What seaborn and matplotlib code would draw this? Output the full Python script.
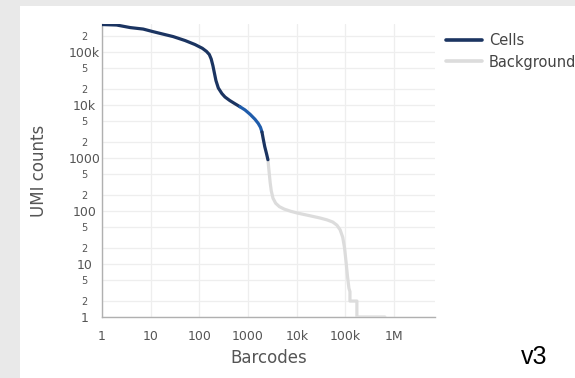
import matplotlib
matplotlib.use('Agg')
import matplotlib.pyplot as plt
import matplotlib.ticker as mticker
from matplotlib.patches import Rectangle
from matplotlib.lines import Line2D
import seaborn as sns

sns.set_style('white')
plt.rcParams['font.family'] = ['DejaVu Sans']

# barcode rank curve
cells_barcodes = [1, 2, 3.8, 7, 11, 16, 29, 51, 81, 115, 140, 160, 175, 190, 205, 219, 245,
                  290, 336, 420, 538, 682]
cells_umis = [331e3, 324e3, 290e3, 272e3, 244e3, 224e3, 196e3, 165e3, 139e3, 118e3, 103e3,
              90e3, 74e3, 55e3, 39e3, 29e3, 21e3, 16.5e3, 14.2e3, 12.2e3, 10.6e3, 9.3e3]
mixed_barcodes = [682, 864, 1100, 1386, 1620, 1800, 1930]
mixed_umis = [9.3e3, 8.1e3, 6.7e3, 5.4e3, 4.5e3, 3.8e3, 3.1e3]
tail_barcodes = [1930, 2050, 2200, 2400, 2560]
tail_umis = [3.1e3, 2.3e3, 1.65e3, 1.2e3, 930]
bg_barcodes = [2560, 2700, 2850, 3000, 3250, 3700, 4400, 5500, 7500, 10.1e3, 18e3, 29.9e3,
               42e3, 55e3, 67e3, 78e3, 88e3, 96e3, 103e3, 110e3, 118e3, 124e3, 124e3,
               172e3, 172e3, 647e3]
bg_umis = [930, 560, 340, 240, 175, 140, 121, 109, 99, 92, 82, 74, 68, 62, 54, 44, 32, 20,
           11, 6, 3.5, 3, 2, 2, 1, 1]

navy = '#1b3461'
blue = '#1f5cab'
grey_line = '#dcdcdc'
text_col = '#555555'

fig = plt.figure(figsize=(5.75, 3.78), dpi=100)
fig.patch.set_facecolor('#e9e9e9')
fig.patches.append(Rectangle((20 / 575, 0), 1, 1 - 6 / 378, transform=fig.transFigure,
                             facecolor='white', edgecolor='none', zorder=-10))
ax = fig.add_axes([102 / 575, 1 - 317 / 378, 333 / 575, 293 / 378])
ax.set_zorder(1)

lw = 2.3
sns.lineplot(x=bg_barcodes, y=bg_umis, color=grey_line, lw=lw, sort=False,
             estimator=None, ax=ax, zorder=3)
sns.lineplot(x=cells_barcodes, y=cells_umis, color=navy, lw=lw, sort=False,
             estimator=None, ax=ax, zorder=4)
sns.lineplot(x=mixed_barcodes, y=mixed_umis, color=blue, lw=lw, sort=False,
             estimator=None, ax=ax, zorder=4)
sns.lineplot(x=tail_barcodes, y=tail_umis, color=navy, lw=lw, sort=False,
             estimator=None, ax=ax, zorder=4)

ax.set_xscale('log')
ax.set_yscale('log')
ax.set_xlim(1, 10 ** 6.84)
ax.set_ylim(1, 10 ** 5.53)

x_ticks = [1, 10, 100, 1000, 1e4, 1e5, 1e6]
x_labels = ['1', '10', '100', '1000', '10k', '100k', '1M']
y_ticks = [1, 10, 100, 1000, 1e4, 1e5]
y_labels = ['1', '10', '100', '1000', '10k', '100k']
y_minor = [m * 10 ** e for e in range(0, 6) for m in (2, 5)]
y_minor = [v for v in y_minor if v < 10 ** 5.53]
y_minor_labels = ['2' if str(int(v))[0] == '2' else '5' for v in y_minor]

ax.xaxis.set_major_locator(mticker.FixedLocator(x_ticks))
ax.xaxis.set_major_formatter(mticker.FixedFormatter(x_labels))
ax.xaxis.set_minor_locator(mticker.NullLocator())
ax.yaxis.set_major_locator(mticker.FixedLocator(y_ticks))
ax.yaxis.set_major_formatter(mticker.FixedFormatter(y_labels))
ax.yaxis.set_minor_locator(mticker.FixedLocator(y_minor))
ax.yaxis.set_minor_formatter(mticker.FixedFormatter(y_minor_labels))

ax.tick_params(axis='x', which='major', length=0, pad=9, labelsize=9, labelcolor=text_col)
ax.tick_params(axis='y', which='major', length=0, pad=12.5, labelsize=9, labelcolor=text_col)
ax.tick_params(axis='y', which='minor', length=0, pad=12.5, labelsize=7, labelcolor=text_col)
for lab in ax.get_yticklabels(which='both'):
    lab.set_ha('center')

ax.grid(True, axis='x', which='major', color='#eeeeee', lw=0.9)
ax.grid(True, axis='y', which='both', color='#eeeeee', lw=0.9)
ax.set_axisbelow(True)

for side in ('top', 'right'):
    ax.spines[side].set_visible(False)
for side in ('left', 'bottom'):
    ax.spines[side].set_color('#b0b0b0')
    ax.spines[side].set_linewidth(1.0)

ax.set_xlabel('Barcodes', fontsize=12, color=text_col)
ax.set_ylabel('UMI counts', fontsize=12, color=text_col)
ax.xaxis.set_label_coords(0.5, -41 / 293)
ax.xaxis.label.set_va('center')
ax.yaxis.set_label_coords(-63 / 333, 0.5)
ax.yaxis.label.set_va('center')

handles = [Line2D([], [], color=navy, lw=2.6), Line2D([], [], color=grey_line, lw=2.6)]
fig.legend(handles, ['Cells', 'Background'], loc='upper left',
           bbox_to_anchor=(446 / 575, 1 - 33 / 378), frameon=False, fontsize=10.5,
           handlelength=2.5, handletextpad=0.45, labelspacing=0.45, borderpad=0,
           borderaxespad=0, labelcolor='#444444')

fig.text(534 / 575, 1 - 357 / 378, 'v3', fontsize=18, family='Liberation Sans',
         ha='center', va='center', color='black')

fig.savefig('out.png', dpi=100)
